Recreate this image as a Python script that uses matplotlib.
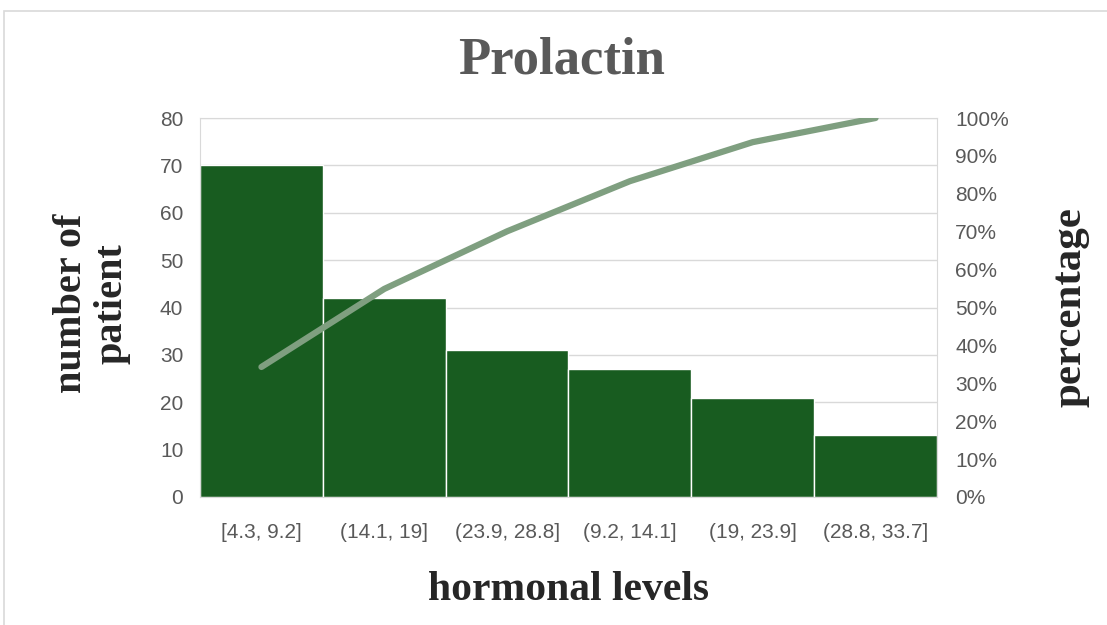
import matplotlib.pyplot as plt
import numpy as np
from matplotlib.patches import Rectangle

# --- Data ---
categories = ["[4.3, 9.2]", "(14.1, 19]", "(23.9, 28.8]", "(9.2, 14.1]", "(19, 23.9]", "(28.8, 33.7]"]
patients   = [70, 42, 31, 27, 21, 13]
cum_pct    = np.cumsum(patients) / np.sum(patients) * 100

BAR_COLOR  = "#185c20"
LINE_COLOR = "#7f9f80"
TICK_COLOR = "#595959"
GRID_COLOR = "#d9d9d9"

fig = plt.figure(figsize=(11.07, 6.25), dpi=100)
fig.patches.append(Rectangle((0.004, -0.01), 1.2, 0.992, transform=fig.transFigure,
                             fill=False, edgecolor="#d9d9d9", linewidth=1.2))

ax = fig.add_axes([0.1807, 0.2048, 0.6657, 0.6064])
x = np.arange(len(categories))
ax.bar(x, patients, width=1.0, color=BAR_COLOR, edgecolor="white", linewidth=1.0, zorder=2)
ax.set_xlim(-0.5, len(categories) - 0.5)
ax.set_ylim(0, 80)
ax.set_yticks(range(0, 81, 10))
ax.set_xticks(x)
ax.set_xticklabels(categories)
ax.grid(axis="y", color=GRID_COLOR, linewidth=1.0, zorder=0)
for s in ax.spines.values():
    s.set_color(GRID_COLOR)
ax.tick_params(length=0, labelsize=15, colors=TICK_COLOR, pad=12)
ax.tick_params(axis="x", pad=19)
for lbl in ax.get_xticklabels() + ax.get_yticklabels():
    lbl.set_fontfamily("Liberation Sans")

ax2 = ax.twinx()
ax2.plot(x, cum_pct, color=LINE_COLOR, linewidth=4.5, solid_capstyle="round", zorder=3)
ax2.set_ylim(0, 100)
ax2.set_yticks(range(0, 101, 10))
ax2.set_yticklabels([f"{v}%" for v in range(0, 101, 10)])
for s in ax2.spines.values():
    s.set_visible(False)
ax2.tick_params(length=0, labelsize=15, colors=TICK_COLOR, pad=13)
for lbl in ax2.get_yticklabels():
    lbl.set_fontfamily("Liberation Sans")

serif = "Liberation Serif"
fig.text(0.507, 0.904, "Prolactin", ha="center", va="center", fontsize=38,
         fontweight="bold", color=TICK_COLOR, family=serif)
fig.text(0.514, 0.056, "hormonal levels", ha="center", va="center", fontsize=30,
         fontweight="bold", color="#262626", family=serif)
fig.text(0.083, 0.515, "number of\npatient", ha="center", va="center", rotation=90,
         fontsize=29, fontweight="bold", color="#262626", family=serif, linespacing=1.15)
fig.text(0.967, 0.509, "percentage", ha="center", va="center", rotation=90,
         fontsize=31, fontweight="bold", color="#262626", family=serif)

fig.savefig("out.png", dpi=100)
